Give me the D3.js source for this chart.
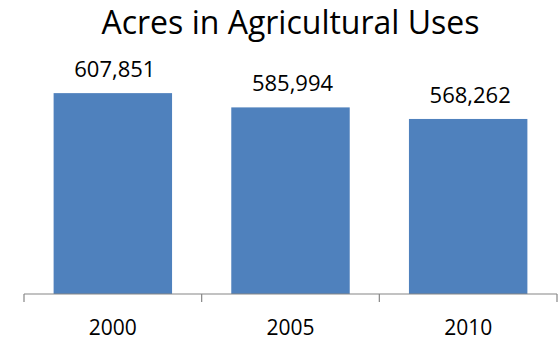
<!DOCTYPE html>
<html>
<head>
<meta charset="utf-8">
<script src="https://cdn.jsdelivr.net/npm/d3@7"></script>
<style>
  body { margin: 0; background: #fff; }
  text { font-family: "Open Sans", "Noto Sans", sans-serif; fill: #000; }
</style>
</head>
<body>
<div id="chart"></div>
<script>
const years = ["2000", "2005", "2010"];
const acres = [607851, 585994, 568262];
const title = "Acres in Agricultural Uses";

const width = 560;
const height = 341;
const margin = { left: 24, right: 3, top: 33, bottom: 47 };

const svg = d3.select("#chart")
    .append("svg")
    .attr("width", width)
    .attr("height", height);

const x = d3.scaleBand()
    .domain(years)
    .range([margin.left, width - margin.right])
    .paddingInner(1 / 3)
    .paddingOuter(1 / 6);

const y = d3.scaleLinear()
    .domain([300000, 700000])
    .range([height - margin.bottom, margin.top]);

// bars
svg.append("g")
    .selectAll("rect")
    .data(acres)
    .enter().append("rect")
    .attr("x", (d, i) => x(years[i]))
    .attr("y", d => y(d))
    .attr("width", x.bandwidth())
    .attr("height", d => y(300000) - y(d))
    .attr("fill", "#4f81bd");

// value labels
const fmt = d3.format(",");
svg.append("g")
    .selectAll("text")
    .data(acres)
    .enter().append("text")
    .attr("x", (d, i) => x(years[i]) + x.bandwidth() / 2 + 2)
    .attr("y", d => y(d) - 16)
    .attr("text-anchor", "middle")
    .style("font-size", "22px")
    .text(d => fmt(d));

// category axis with ticks between bands
const axisY = height - margin.bottom;
const step = x.step();
const tickPos = d3.range(years.length + 1).map(i => margin.left + i * step);

const axis = svg.append("g").attr("stroke", "#868686").attr("stroke-width", 1.2);
axis.append("line")
    .attr("x1", margin.left)
    .attr("x2", width - margin.right)
    .attr("y1", axisY)
    .attr("y2", axisY);
axis.selectAll(".tick")
    .data(tickPos)
    .enter().append("line")
    .attr("x1", d => d)
    .attr("x2", d => d)
    .attr("y1", axisY)
    .attr("y2", axisY + 8);

svg.append("g")
    .selectAll("text")
    .data(years)
    .enter().append("text")
    .attr("x", d => x(d) + x.bandwidth() / 2)
    .attr("y", 335)
    .attr("text-anchor", "middle")
    .style("font-size", "21px")
    .text(d => d);

// title
svg.append("text")
    .attr("x", (margin.left + width - margin.right) / 2)
    .attr("y", 34)
    .attr("text-anchor", "middle")
    .style("font-size", "32px")
    .text(title);
</script>
</body>
</html>
